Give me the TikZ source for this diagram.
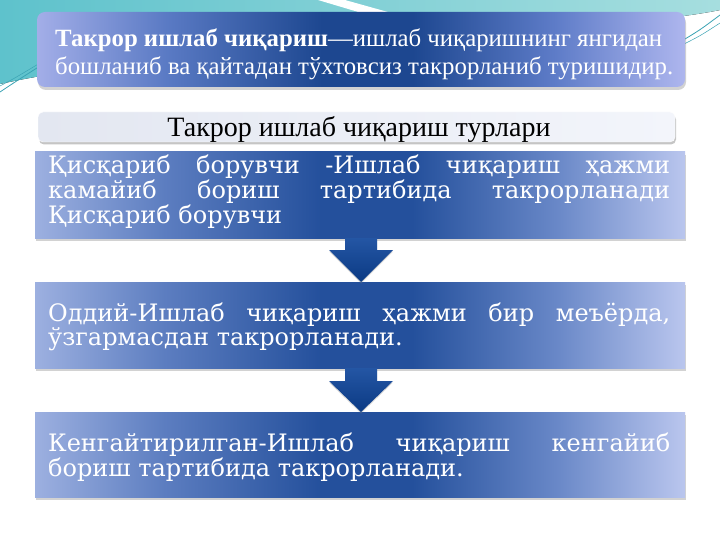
\documentclass[tikz,border=0pt]{standalone}
\usepackage{fontspec}
\setmainfont{Liberation Serif}
\newfontfamily\boxfont{DejaVu Serif}
\usetikzlibrary{shadows}
\definecolor{tealA}{HTML}{5EC2CC}
\definecolor{tealB}{HTML}{A6DEDF}
\definecolor{tealC}{HTML}{3AA3B4}
\definecolor{topL}{HTML}{A3AEE8}
\definecolor{topL2}{HTML}{5A7AC4}
\definecolor{topM}{HTML}{1D4790}
\definecolor{topR2}{HTML}{5E7CC8}
\definecolor{topR}{HTML}{AEB6EE}
\definecolor{boxL}{HTML}{9DB0E0}
\definecolor{boxL2}{HTML}{5C7DC0}
\definecolor{boxM}{HTML}{24509C}
\definecolor{boxR2}{HTML}{6887C7}
\definecolor{boxR}{HTML}{BAC6EE}
\definecolor{ttlL}{HTML}{E3E7F1}
\definecolor{ttlR}{HTML}{F3F5FB}
\definecolor{arrT}{HTML}{2456A4}
\definecolor{arrB}{HTML}{0B3A84}
\pgfdeclarehorizontalshading{boxshade}{100bp}{color(0bp)=(boxL); color(25bp)=(boxL);
  color(35bp)=(boxL2); color(47bp)=(boxM); color(54bp)=(boxM); color(65bp)=(boxR2); color(75bp)=(boxR); color(100bp)=(boxR)}
\pgfdeclarehorizontalshading{topshade}{100bp}{color(0bp)=(topL); color(25bp)=(topL);
  color(35bp)=(topL2); color(47bp)=(topM); color(54bp)=(topM); color(65bp)=(topR2); color(75bp)=(topR); color(100bp)=(topR)}
\tikzset{
  bluebox/.style={shading=boxshade,
    drop shadow={shadow xshift=1pt, shadow yshift=-3pt, opacity=0.35}},
  topbox/.style={rounded corners=8pt, shading=topshade,
    drop shadow={shadow xshift=1pt, shadow yshift=-3pt, opacity=0.35}},
  titlebox/.style={rounded corners=5pt, left color=ttlL, right color=ttlR, draw=white,
    drop shadow={shadow xshift=1pt, shadow yshift=-2.5pt, opacity=0.45}},
  boxtext/.style={anchor=base west, inner sep=0pt, text width=622pt, align=justify,
    text=white, font=\boxfont\fontsize{24}{23}\selectfont},
  downarrow/.style={top color=arrT, bottom color=arrB,
    drop shadow={shadow xshift=0pt, shadow yshift=-1.5pt, opacity=0.3}}
}
\begin{document}
\begin{tikzpicture}[x=1pt,y=-1pt]
\useasboundingbox (0,0) rectangle (720,540);
\fill[white] (0,0) rectangle (720,540);
% background swoosh
\fill[left color=tealA, right color=tealB] (0,0) -- (720,0) -- (720,10)
  .. controls (600,35) and (200,40) .. (0,84) -- cycle;
\fill[white] (318,0) -- (345,0) -- (395,14) -- (365,14) -- cycle;
\draw[tealC, line width=0.8pt] (0,92) .. controls (15,82) .. (40,66);
\draw[tealC, line width=0.5pt] (0,86) .. controls (15,78) .. (40,63);
\draw[tealC, line width=0.8pt] (680,42) .. controls (700,30) .. (720,15);
\draw[tealC, line width=0.5pt] (680,46) .. controls (700,36) .. (720,23);
% boxes
\path[topbox] (37,12) rectangle (685,87);
\node[anchor=base west, inner sep=0pt, align=left, text=white,
  font=\fontsize{24.8}{28}\selectfont] (deftext) at (55,75)
  {\textbf{Такрор ишлаб чиқариш}—ишлаб чиқаришнинг янгидан\\
   бошланиб ва қайтадан тўхтовсиз такрорланиб туришидир.};
\path[titlebox] (38,112) rectangle (675,142);
\node[anchor=base, inner sep=0pt, font=\fontsize{28}{30}\selectfont] (title) at (359,137)
  {Такрор ишлаб чиқариш турлари};
\path[bluebox] (35,152) rectangle (685,238);
\path[bluebox] (35,282) rectangle (685,368);
\path[bluebox] (35,412) rectangle (685,497);
% arrows
\path[downarrow] (345,238) -- (377,238) -- (377,250) -- (393,250) -- (361,282)
  -- (329,250) -- (345,250) -- cycle;
\path[downarrow] (345,368) -- (377,368) -- (377,381) -- (393,381) -- (361,412)
  -- (329,381) -- (345,381) -- cycle;
% texts
\node[boxtext] (t1) at (48,174) {\hyphenpenalty=10000\exhyphenpenalty=10000
  Қисқариб борувчи -Ишлаб чиқариш ҳажми\linebreak
  камайиб бориш тартибида такрорланади\linebreak
  Қисқариб борувчи};
\node[boxtext, font=\boxfont\fontsize{24}{24.5}\selectfont] (t2) at (48,321)
  {\hyphenpenalty=10000\exhyphenpenalty=10000
  Оддий-Ишлаб чиқариш ҳажми бир меъёрда,\linebreak
  ўзгармасдан такрорланади.};
\node[boxtext, font=\boxfont\fontsize{24}{25.5}\selectfont] (t3) at (48,451)
  {\hyphenpenalty=10000\exhyphenpenalty=10000
  Кенгайтирилган-Ишлаб чиқариш кенгайиб\linebreak
  бориш тартибида такрорланади.};
\end{tikzpicture}
\end{document}
